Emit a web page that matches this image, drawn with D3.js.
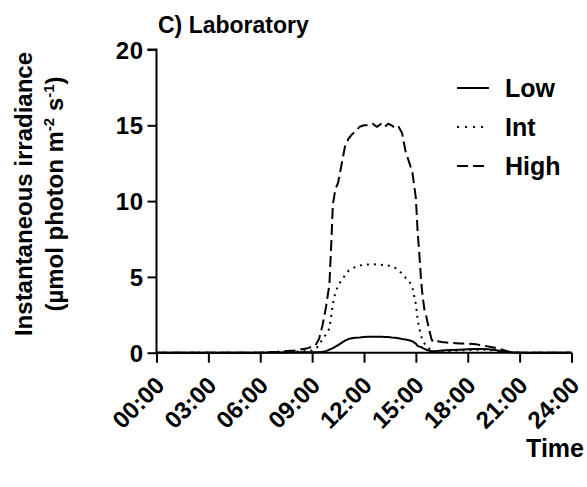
<!DOCTYPE html>
<html>
<head>
<meta charset="utf-8">
<script src="https://cdn.jsdelivr.net/npm/d3@7"></script>
<style>
  html, body { margin: 0; padding: 0; background: #fff; }
  svg text { font-family: "Liberation Sans", Arial, sans-serif; font-weight: bold; fill: #000; }
</style>
</head>
<body>
<svg id="chart" width="587" height="487"></svg>
<script>
// Time of day (hours) at which irradiance was sampled
const hours = [0, 3, 6, 6.5, 7, 7.5, 8, 8.5, 8.75, 9, 9.2, 9.4, 9.6, 9.8, 10, 10.1, 10.2, 10.35,
  10.5, 10.7, 10.9, 11.1, 11.3, 11.5, 11.75, 12, 12.25, 12.5, 12.75, 13, 13.2, 13.4, 13.6, 13.8,
  14, 14.2, 14.4, 14.6, 14.8, 15, 15.1, 15.2, 15.3, 15.4, 15.5, 15.6, 15.75, 15.9, 16, 16.25,
  16.5, 17, 17.5, 18, 18.5, 19, 19.5, 20, 20.5, 20.8, 21, 24];

// Instantaneous irradiance (µmol photon m-2 s-1) per light treatment
const lowValues = [0, 0, 0, 0.01, 0.02, 0.02, 0.03, 0.03, 0.03, 0.03, 0.03, 0.04, 0.06, 0.1, 0.2, 0.25, 0.3, 0.4,
  0.5, 0.65, 0.8, 0.9, 0.95, 0.98, 1.0, 1.03, 1.05, 1.05, 1.06, 1.05, 1.04, 1.03, 1.0, 0.98,
  0.95, 0.9, 0.87, 0.82, 0.75, 0.6, 0.45, 0.4, 0.38, 0.3, 0.25, 0.2, 0.15, 0.1, 0.1, 0.12,
  0.15, 0.18, 0.2, 0.22, 0.25, 0.25, 0.2, 0.1, 0.03, 0.01, 0, 0];

const intValues = [0, 0, 0, 0.01, 0.02, 0.04, 0.06, 0.1, 0.12, 0.15, 0.25, 0.5, 0.9, 1.2, 1.6, 2.4, 3.2, 4.0,
  4.4, 4.8, 5.1, 5.4, 5.55, 5.65, 5.75, 5.8, 5.82, 5.83, 5.82, 5.8, 5.78, 5.75, 5.7, 5.6,
  5.45, 5.2, 4.95, 4.75, 4.3, 3.2, 2.2, 1.6, 1.1, 0.8, 0.6, 0.45, 0.3, 0.15, 0.1, 0.08,
  0.1, 0.12, 0.15, 0.18, 0.2, 0.2, 0.15, 0.08, 0.02, 0.01, 0, 0];

const highValues = [0, 0, 0, 0.03, 0.06, 0.12, 0.15, 0.25, 0.3, 0.4, 0.5, 0.9, 1.8, 3.0, 4.5, 7.0, 9.8, 10.8,
  11.2, 12.4, 13.6, 14.1, 14.4, 14.6, 14.9, 15.0, 15.0, 15.1, 14.9, 15.1, 14.9, 15.1, 15.0, 14.8,
  14.9, 14.5, 13.3, 12.6, 11.9, 10.2, 8.0, 6.5, 4.8, 3.6, 2.8, 2.4, 1.6, 0.9, 0.7, 0.75,
  0.7, 0.65, 0.6, 0.6, 0.55, 0.45, 0.35, 0.2, 0.03, 0.01, 0, 0];

const seriesNames = ["Low", "Int", "High"];
const xTickHours = [0, 3, 6, 9, 12, 15, 18, 21, 24];
const xTickLabels = ["00:00", "03:00", "06:00", "09:00", "12:00", "15:00", "18:00", "21:00", "24:00"];
const yTicks = [0, 5, 10, 15, 20];

const svg = d3.select("#chart");

const x = d3.scaleLinear().domain([0, 24]).range([156.5, 571.5]);
const y = d3.scaleLinear().domain([0, 20]).range([352.7, 49.5]);

// line styles per treatment
const dashes = { Low: null, Int: "2,5", High: "11,5" };
const seriesData = {
  Low: hours.map((h, i) => [h, lowValues[i]]),
  Int: hours.map((h, i) => [h, intValues[i]]),
  High: hours.map((h, i) => [h, highValues[i]])
};

const line = d3.line().x(d => x(d[0])).y(d => y(d[1]));

// curves (drawn beneath the axes)
seriesNames.slice().reverse().forEach(name => {
  svg.append("path")
    .datum(seriesData[name])
    .attr("fill", "none")
    .attr("stroke", "#000")
    .attr("stroke-width", 2)
    .attr("stroke-linejoin", "round")
    .attr("stroke-dasharray", dashes[name])
    .attr("d", line);
});

// y axis
const yAxis = svg.append("g")
  .attr("transform", `translate(${x(0)},0)`)
  .call(d3.axisLeft(y).tickValues(yTicks).tickSize(9).tickPadding(4).tickFormat(d3.format("d")));
yAxis.select(".domain").attr("stroke-width", 2).attr("d", `M-9,${y(20)}H0V${y(0)}`);
yAxis.selectAll(".tick line").attr("stroke-width", 2);
yAxis.selectAll(".tick text")
  .style("font-size", "24px")
  .style("letter-spacing", "0.5px")
  .attr("dy", "0.36em");

// x axis
const xAxis = svg.append("g")
  .attr("transform", `translate(0,${y(0)})`)
  .call(d3.axisBottom(x).tickValues(xTickHours).tickSize(10)
    .tickFormat((d, i) => xTickLabels[i]));
xAxis.select(".domain").attr("stroke-width", 2).attr("d", `M${x(0)},0H${x(24)}`);
xAxis.selectAll(".tick line").attr("stroke-width", 2);
xAxis.selectAll(".tick text")
  .style("font-size", "24px")
  .attr("text-anchor", "end")
  .attr("dy", null)
  .attr("y", 0)
  .attr("transform", "translate(9,34) rotate(-45)");

// title
svg.append("text")
  .attr("x", 158)
  .attr("y", 33)
  .style("font-size", "23px")
  .text("C) Laboratory");

// y axis title (two lines)
const yTitle = svg.append("text")
  .attr("transform", `translate(32,194) rotate(-90)`)
  .attr("text-anchor", "middle")
  .style("font-size", "24px");
yTitle.append("tspan").attr("x", 0).attr("y", 0).text("Instantaneous irradiance");
const line2 = yTitle.append("tspan").attr("x", 0).attr("y", 31);
line2.append("tspan").text("(µmol photon m");
line2.append("tspan").attr("dy", -9).style("font-size", "15px").text("-2");
line2.append("tspan").attr("dy", 9).text(" s");
line2.append("tspan").attr("dy", -9).style("font-size", "15px").text("-1");
line2.append("tspan").attr("dy", 9).text(")");

// x axis title
svg.append("text")
  .attr("x", 584)
  .attr("y", 457)
  .attr("text-anchor", "end")
  .style("font-size", "25px")
  .text("Time");

// legend
const legendY = { Low: 88, Int: 127, High: 166 };
seriesNames.forEach(name => {
  svg.append("line")
    .attr("x1", 457).attr("x2", 489)
    .attr("y1", legendY[name]).attr("y2", legendY[name])
    .attr("stroke", "#000")
    .attr("stroke-width", 2)
    .attr("stroke-dasharray", dashes[name] === "2,5" ? "2,6" : dashes[name]);
  svg.append("text")
    .attr("x", 505)
    .attr("y", legendY[name] + 9)
    .style("font-size", "25px")
    .text(name);
});
</script>
</body>
</html>
